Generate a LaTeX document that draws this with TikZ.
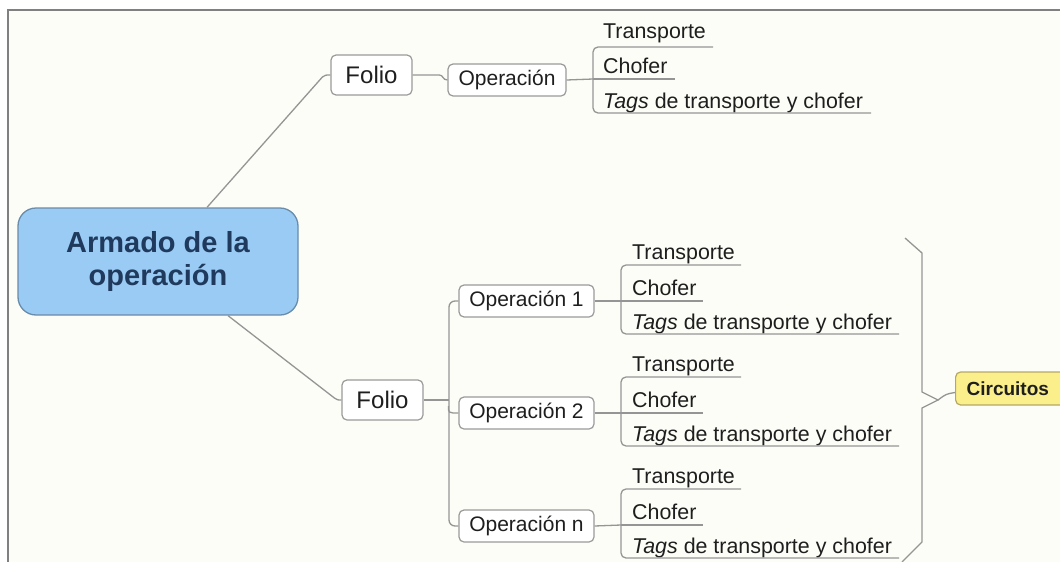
\documentclass[tikz,border=0pt]{standalone}
\usepackage{fontspec}
\setmainfont{Liberation Sans}
\definecolor{bgcream}{HTML}{FDFDF7}
\definecolor{framec}{HTML}{808080}
\definecolor{linegray}{HTML}{959595}
\definecolor{boxgray}{HTML}{9A9A9A}
\definecolor{txt}{HTML}{1E1E1E}
\definecolor{cfill}{HTML}{9ACBF4}
\definecolor{cdraw}{HTML}{6A8CAB}
\definecolor{ctxt}{HTML}{1F3A5C}
\definecolor{yfill}{HTML}{FBEF8B}
\definecolor{ydraw}{HTML}{B5A866}
\tikzset{
  conn/.style={draw=linegray, line width=1.3pt},
  box/.style={draw=boxgray, fill=white, rounded corners=5pt, line width=1.2pt, inner sep=0pt, text=txt, font=\fontsize{21}{25}\selectfont},
  leaf/.style={anchor=base west, inner sep=0pt, text=txt, font=\fontsize{21.4}{25}\selectfont},
  central/.style={draw=cdraw, fill=cfill, rounded corners=18pt, line width=1.3pt, inner sep=0pt, text=ctxt, align=center, font=\bfseries\fontsize{29}{33}\selectfont},
  circ/.style={draw=ydraw, fill=yfill, rounded corners=5pt, line width=1.2pt, inner ysep=0pt, inner xsep=11pt, text=txt, align=left, font=\bfseries\fontsize{19}{22}\selectfont},
}
\newcommand\leafgroup[7]{% #1 prefix, #2 bracket x, #3 #4 #5 underline y, #6 text offset, #7 first gap
  \coordinate (#1b) at (#2,#4);
  \node[leaf] (#1t) at (#2+#6,#3-#7) {Transporte};
  \node[leaf] (#1c) at (#2+#6,#4-6) {Chofer};
  \node[leaf] (#1g) at (#2+#6,#5-5) {\textit{Tags} de transporte y chofer};
  \draw[conn, rounded corners=5pt] (#2+120,#3) -- (#2,#3) -- (#2,#5) -- (#2+278,#5);
  \draw[conn] (#2,#4) -- (#2+82,#4);
}
\begin{document}
\begin{tikzpicture}[x=1pt,y=-1pt]
\useasboundingbox (0,0) rectangle (1060,562);
\clip (0,0) rectangle (1060,562);
\fill[white] (0,0) rectangle (1060,562);
\fill[bgcream] (8,10) rectangle (1060,562);
\draw[framec, line width=1.4pt] (8,562) -- (8,10) -- (1060,10);

% central node
\node[central, minimum width=280pt, minimum height=107pt] (c) at (158,261.5) {Armado de la\\operación};

% top branch
\node[box, minimum width=81pt, minimum height=40pt, font=\fontsize{24}{28}\selectfont] (f1) at (371.5,75) {Folio};
\node[box, minimum width=118pt, minimum height=32pt] (op) at (507,80) {Operación};
\draw[conn] ([xshift=49pt]c.north) -- ([xshift=-8pt,yshift=-2pt]f1.west) .. controls ([xshift=-5pt]f1.west) .. (f1.west);
\draw[conn] (f1.east) -- ([xshift=-8pt,yshift=5pt]op.west) .. controls ([xshift=-4pt,yshift=5pt]op.west) and ([xshift=-5pt]op.west) .. (op.west);
\leafgroup{g0}{593}{47}{79}{113}{10}{9}
\draw[conn] (op.east) -- (g0b);

% bottom branch
\node[box, minimum width=81pt, minimum height=40pt, font=\fontsize{24}{28}\selectfont] (f2) at (382.5,400) {Folio};
\node[box, minimum width=135pt, minimum height=32pt] (o1) at (526.5,301) {Operación 1};
\node[box, minimum width=135pt, minimum height=32pt] (o2) at (526.5,413) {Operación 2};
\node[box, minimum width=135pt, minimum height=32pt] (on) at (526.5,526) {Operación n};
\draw[conn] ([xshift=70pt]c.south) -- ([xshift=-7pt,yshift=2pt]f2.west) .. controls ([xshift=-4pt]f2.west) .. (f2.west);
\coordinate (tr) at (449,400);
\draw[conn] (f2.east) -- (tr);
\draw[conn, rounded corners=6pt] (o1.west) -| (tr) |- (on.west);
\draw[conn] ([xshift=-10pt,yshift=7pt]o2.west) .. controls ([xshift=-10pt]o2.west) .. (o2.west);
\leafgroup{g1}{621}{265}{301}{334}{11}{6}
\leafgroup{g2}{621}{377}{413}{446}{11}{6}
\leafgroup{g3}{621}{489}{525}{558}{11}{6}
\draw[conn] (o1.east) -- (g1b);
\draw[conn] (o2.east) -- (g2b);
\draw[conn] (on.east) -- (g3b);

% brace and Circuitos
\node[circ, anchor=west, text width=100pt, minimum height=33pt] (ci) at (955,388.5) {Circuitos};
\coordinate (bt) at (938,400);
\draw[conn] (905,238) -- (922,253) -- (922,392) -- (bt) -- (922,408) -- (922,542) -- (902,562);
\draw[conn] (bt) .. controls (946,394) .. ([yshift=-4pt]ci.west);
\end{tikzpicture}
\end{document}
